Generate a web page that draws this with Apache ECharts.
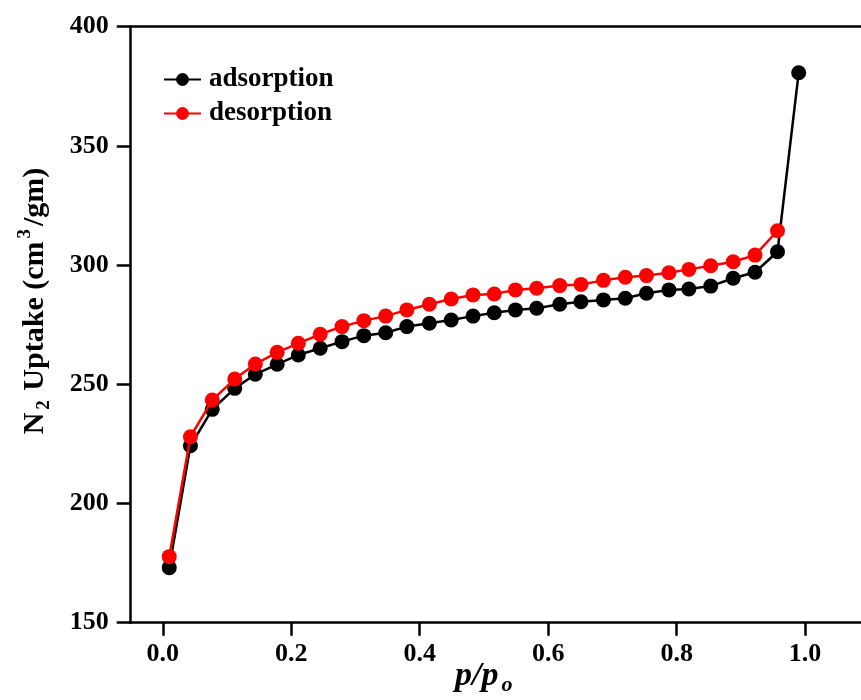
<!DOCTYPE html>
<html>
<head>
<meta charset="utf-8">
<script src="https://cdn.jsdelivr.net/npm/echarts@6/dist/echarts.min.js"></script>
<style>
  html, body { margin: 0; padding: 0; background: #ffffff; }
  #chart { width: 861px; height: 700px; }
</style>
</head>
<body>
<div id="chart"></div>
<script>
// Relative pressure p/p0 for each measured point
const pressure = [0.010, 0.043, 0.077, 0.112, 0.144, 0.178, 0.211, 0.245, 0.279, 0.313,
                  0.347, 0.380, 0.415, 0.449, 0.483, 0.516, 0.549, 0.582, 0.618, 0.651,
                  0.686, 0.720, 0.753, 0.788, 0.819, 0.853, 0.888, 0.922, 0.957, 0.990];

// N2 uptake (cm3/g) on the adsorption branch
const adsorption = [173.1, 224.2, 239.5, 248.3, 254.2, 258.4, 262.3, 265.1, 267.9, 270.4,
                    271.6, 274.2, 275.6, 277.0, 278.6, 280.0, 281.2, 281.9, 283.6, 284.6,
                    285.4, 286.1, 288.2, 289.6, 290.0, 291.2, 294.5, 297.0, 305.6, 380.7];

// N2 uptake (cm3/g) on the desorption branch (no point at the last pressure)
const desorption = [177.7, 228.0, 243.4, 252.2, 258.5, 263.4, 267.2, 271.0, 274.2, 276.7,
                    278.6, 281.2, 283.6, 285.8, 287.5, 287.9, 289.6, 290.3, 291.4, 291.9,
                    293.6, 294.9, 295.6, 296.8, 298.2, 299.7, 301.4, 304.2, 314.4];

const xTicks = [0.0, 0.2, 0.4, 0.6, 0.8, 1.0];
const yTicks = [150, 200, 250, 300, 350, 400];

const seriesNames = ['adsorption', 'desorption'];
const seriesColors = ['#000000', '#ff0000'];

const FONT = "'Liberation Serif', 'Times New Roman', serif";

function pairs(xs, ys) {
  return ys.map((y, i) => [xs[i], y]);
}

const chart = echarts.init(document.getElementById('chart'), null, { renderer: 'canvas' });

const axisLineStyle = { color: '#000', width: 2.5 };
const tickStyle = { color: '#000', width: 2.5 };
const tickLabel = { color: '#000', fontFamily: FONT, fontWeight: 'bold', fontSize: 26 };

const option = {
  backgroundColor: '#ffffff',
  animation: false,
  grid: { left: 130.7, right: 0, top: 26.7, bottom: 77.3, containLabel: false },
  legend: {
    orient: 'vertical',
    left: 158,
    top: 61,
    itemWidth: 37,
    itemHeight: 16,
    itemGap: 7,
    data: seriesNames,
    textStyle: { color: '#000', fontFamily: FONT, fontWeight: 'bold', fontSize: 27, lineHeight: 26, padding: [0, 0, 0, 3] }
  },
  xAxis: [
    {
      type: 'value',
      min: -0.05,
      max: 1.087,
      position: 'bottom',
      splitLine: { show: false },
      axisLine: { show: true, onZero: false, lineStyle: axisLineStyle },
      axisTick: { show: true, inside: false, length: 13, customValues: xTicks, lineStyle: tickStyle },
      axisLabel: Object.assign({ show: true, margin: 19, customValues: xTicks, formatter: v => v.toFixed(1) }, tickLabel)
    },
    {
      type: 'value',
      min: -0.05,
      max: 1.087,
      position: 'top',
      splitLine: { show: false },
      axisLine: { show: true, onZero: false, lineStyle: axisLineStyle },
      axisTick: { show: false },
      axisLabel: { show: false }
    }
  ],
  yAxis: {
    type: 'value',
    min: yTicks[0],
    max: yTicks[yTicks.length - 1],
    interval: 50,
    splitLine: { show: false },
    axisLine: { show: true, onZero: false, lineStyle: axisLineStyle },
    axisTick: { show: true, inside: false, length: 14, lineStyle: tickStyle },
    axisLabel: Object.assign({ show: true, margin: 22 }, tickLabel)
  },
  graphic: [
    {
      type: 'text',
      x: 35,
      y: 301,
      rotation: Math.PI / 2,
      style: {
        text: '{m|N}{sub|2}{m| Uptake (cm}{sup|3}{m|/gm)}',
        align: 'center',
        verticalAlign: 'middle',
        fill: '#000',
        rich: {
          m: { fontFamily: FONT, fontWeight: 'bold', fontSize: 30, lineHeight: 38, fill: '#000' },
          sub: { fontFamily: FONT, fontWeight: 'bold', fontSize: 19, lineHeight: 19, verticalAlign: 'bottom', padding: [0, 2, 0, 3], fill: '#000' },
          sup: { fontFamily: FONT, fontWeight: 'bold', fontSize: 19, lineHeight: 19, verticalAlign: 'top', padding: [0, 3, 0, 3], fill: '#000' }
        }
      }
    },
    {
      type: 'text',
      x: 455,
      y: 676,
      style: {
        text: '{m|p/p}{sub|o}',
        align: 'left',
        verticalAlign: 'middle',
        fill: '#000',
        rich: {
          m: { fontFamily: FONT, fontStyle: 'italic', fontWeight: 'bold', fontSize: 34, lineHeight: 40, fill: '#000' },
          sub: { fontFamily: FONT, fontStyle: 'italic', fontWeight: 'bold', fontSize: 22, lineHeight: 22, verticalAlign: 'bottom', padding: [0, 0, 0, 3], fill: '#000' }
        }
      }
    }
  ],
  series: [
    {
      name: seriesNames[0],
      type: 'line',
      xAxisIndex: 0,
      data: pairs(pressure, adsorption),
      symbol: 'circle',
      symbolSize: 15,
      color: seriesColors[0],
      itemStyle: { color: seriesColors[0] },
      lineStyle: { color: seriesColors[0], width: 2.5 },
      z: 2
    },
    {
      name: seriesNames[1],
      type: 'line',
      xAxisIndex: 0,
      data: pairs(pressure, desorption),
      symbol: 'circle',
      symbolSize: 15,
      color: seriesColors[1],
      itemStyle: { color: seriesColors[1] },
      lineStyle: { color: seriesColors[1], width: 2.5 },
      z: 3
    }
  ]
};

chart.setOption(option);
</script>
</body>
</html>
